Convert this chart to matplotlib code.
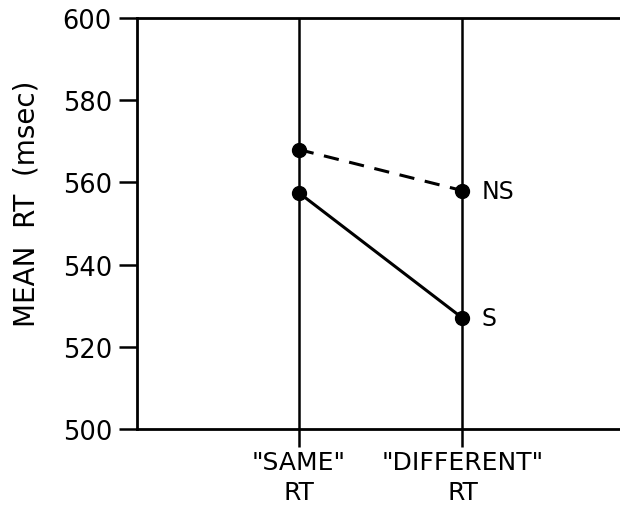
import matplotlib
matplotlib.use("Agg")
import matplotlib.pyplot as plt

categories = ['"SAME"\nRT', '"DIFFERENT"\nRT']
s_values = [557.5, 527.0]
ns_values = [568.0, 558.0]
yticks = [500, 520, 540, 560, 580, 600]

plt.rcParams['font.family'] = ['DejaVu Sans']

fig = plt.figure(figsize=(6.2, 5.06), dpi=100)
ax = fig.add_axes([137/620, 1 - 430/506, 1 - 137/620 + 0.01, (430 - 19)/506])

xpos = [1, 2]
for x in xpos:
    ax.axvline(x, color='black', lw=1.8, zorder=1)

ax.plot(xpos, ns_values, color='black', lw=2.2, ls=(0, (5, 3.5)),
        marker='o', ms=10, zorder=3)
ax.plot(xpos, s_values, color='black', lw=2.2, ls='-',
        marker='o', ms=10, zorder=3)

ax.annotate('NS', (xpos[1], ns_values[1]), xytext=(14, 0), textcoords='offset points',
            ha='left', va='center', fontsize=17)
ax.annotate('S', (xpos[1], s_values[1]), xytext=(14, 0), textcoords='offset points',
            ha='left', va='center', fontsize=17)

ax.set_ylim(500, 600)
ax.set_xlim(1 - 163/165, 1 + 330/165)
ax.set_yticks(yticks)
ax.set_yticklabels([str(v) for v in yticks], fontsize=18.5)
ax.set_xticks(xpos)
ax.set_xticklabels(categories, fontsize=18, linespacing=1.3)
ax.set_ylabel('MEAN  RT  (msec)', fontsize=20)
ax.yaxis.set_label_coords(-0.197, 0.55)

ax.tick_params(axis='y', direction='out', length=13, width=1.8, pad=5)
ax.tick_params(axis='x', direction='out', length=13, width=1.8, pad=2)

ax.spines['right'].set_visible(False)
for sp in ['left', 'bottom', 'top']:
    ax.spines[sp].set_linewidth(2.0)

fig.savefig('out.png', dpi=100)
